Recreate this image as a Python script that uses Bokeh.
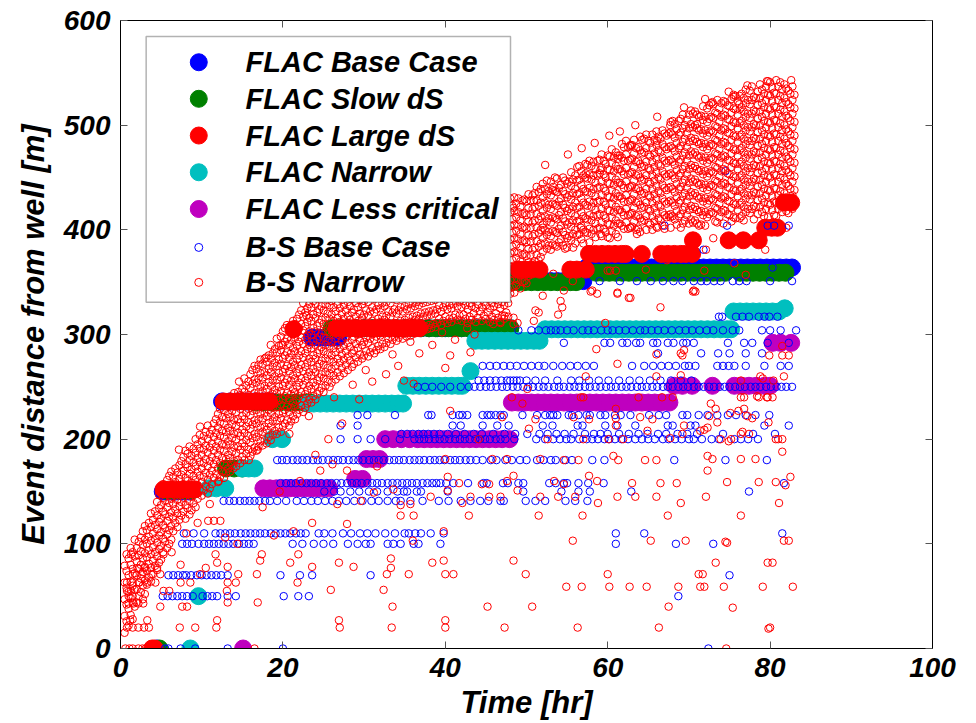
from bokeh.plotting import figure
from bokeh.models import Range1d, FixedTicker, LinearAxis, BoxAnnotation, ColumnDataSource
from bokeh.core.properties import value
from bokeh.embed import file_html
from bokeh.resources import INLINE

FONT = "Liberation Sans"
BLUE, GREEN, RED, CYAN, MAGENTA = "#0000FF", "#008000", "#FF0000", "#00BFBF", "#BF00BF"

X_TICKS = [0, 20, 40, 60, 80, 100]
Y_TICKS = [0, 100, 200, 300, 400, 500, 600]

LEGEND_LABELS = ["FLAC Base Case", "FLAC Slow dS", "FLAC Large dS", "FLAC Narrow",
                 "FLAC Less critical", "B-S Base Case", "B-S Narrow"]

# ---- FLAC series: (distance [m], [times in hr])
FLAC_BASE_ROWS = [
    (0, [4.5]),
    (150, [5.2, 6.0, 6.8, 7.6, 8.4]),
    (236, [12.5, 13.5, 14.5, 15.5, 16.5, 17.5, 18.5]),
    (297, [23.6, 24.4, 25.2, 26.0, 26.8]),
    (306, [28.0, 29.0, 30.0, 31.0, 32.0, 33.0, 34.0, 35.0, 36.0, 37.0, 38.0, 39.0, 40.0,
           41.0, 42.0, 43.0, 44.0, 45.0, 46.0, 47.0, 48.0]),
    (351, [48.2, 49.0, 49.8, 50.6, 51.4, 52.2, 53.0, 53.8, 54.6, 55.4, 56.2, 57.0]),
    (364, [57.4, 58.2, 59.0, 59.8, 60.6, 61.4, 62.2, 63.0, 63.8, 64.6, 65.4, 66.2, 67.0,
           67.8, 68.6, 69.4, 70.2, 71.0, 71.8, 72.6, 73.4, 74.2, 75.0, 75.6, 76.4, 77.2,
           78.0, 78.8, 79.6, 80.4, 81.2, 82.0, 82.7]),
]
FLAC_SLOW_ROWS = [
    (0, [4.8]),
    (151, [5.6, 6.4, 7.2, 8.0, 8.8]),
    (172, [13.0, 14.0, 15.0]),
    (235, [16.6, 17.6, 18.6, 19.6, 20.6, 21.6, 22.6, 23.4]),
    (306, [26.0, 27.0, 28.0, 29.0, 30.0, 31.0, 32.0, 33.0, 34.0, 35.0, 36.0, 37.0, 38.0,
           38.8, 39.6, 40.4, 41.2, 42.0, 42.8, 43.6, 44.4, 45.2, 46.0, 46.8, 47.6, 48.0]),
    (350, [48.2, 49.0, 49.8, 50.6, 51.4, 52.2, 53.0, 53.8, 54.6, 55.4, 56.1]),
    (359, [58.6, 59.4, 60.2, 61.0, 61.8, 62.6, 63.4, 64.2, 65.0, 65.8, 66.6, 67.4, 68.2,
           69.0, 69.8, 70.6, 71.4, 72.2, 73.0, 73.8, 74.5, 76.3, 77.1, 77.9, 78.7, 79.5,
           80.3, 81.1, 81.9]),
]
FLAC_LARGE_ROWS = [
    (0, [3.9, 4.2]),
    (152, [5.3, 6.1, 6.9, 7.7, 8.5, 9.2]),
    (236, [12.7, 13.5, 14.3, 15.1, 15.9, 16.7, 17.5, 18.3]),
    (305, [21.3]),
    (306, [26.6, 27.4, 28.2, 29.0, 29.8, 30.6, 31.4, 32.2, 33.0, 33.8, 34.6, 35.4, 36.2, 36.8]),
    (362, [49.0, 49.8, 50.6, 51.6, 55.4, 56.2, 57.3]),
    (377, [57.7, 58.5, 59.3, 60.1, 60.9, 61.7, 62.2, 64.2, 66.6, 67.4, 68.2, 69.0, 69.6, 70.4]),
    (390, [70.5, 74.9, 76.7, 78.6]),
    (402, [79.4, 80.2, 80.9]),
    (426, [81.7, 82.6]),
]
FLAC_NARROW_ROWS = [
    (0, [8.6]),
    (50, [9.6]),
    (153, [10.9, 11.8, 12.9]),
    (172, [15.0, 15.8, 16.5]),
    (200, [18.7, 19.9]),
    (234, [23.0, 23.8, 24.6, 25.4, 26.2, 27.0, 27.8, 28.6, 29.4, 30.2, 31.0, 31.8, 32.6,
           33.4, 34.2, 34.8]),
    (251, [35.2, 36.0, 36.8, 37.6, 38.4, 39.2, 40.0, 40.8, 41.6, 42.1]),
    (265, [43.1]),
    (294, [43.7, 44.5, 45.3, 46.1, 46.9, 47.7, 48.5, 49.3, 50.1, 50.9, 51.6]),
    (305, [52.3, 53.1, 53.9, 54.7, 55.5, 56.3, 57.1, 57.9, 58.7, 59.5, 60.3, 61.1, 61.9,
           62.7, 63.5, 64.3, 65.1, 65.9, 66.7, 67.5, 68.3, 69.1, 69.9, 70.7, 71.5, 72.3,
           73.1, 73.9, 74.7, 75.2]),
    (322, [75.5, 76.3, 77.1, 77.9, 78.7, 79.5, 80.3, 81.1]),
    (325, [81.8]),
]
FLAC_LESS_ROWS = [
    (0, [15.1]),
    (153, [17.6, 18.4, 19.2, 20.0, 20.8, 21.6, 22.4, 23.2, 24.0, 24.8, 25.7]),
    (162, [28.9, 29.8]),
    (181, [30.3, 31.1, 31.9]),
    (200, [32.6, 33.6, 34.6, 35.6, 36.6, 37.4, 38.2, 39.0, 39.8, 40.6, 41.4, 42.2, 43.0,
           43.8, 44.6, 45.4, 46.2, 47.0, 47.9]),
    (235, [48.2, 49.0, 49.8, 50.6, 51.4, 52.2, 53.0, 53.8, 54.6, 55.4, 56.2, 57.0, 57.8,
           58.6, 59.4, 60.2, 61.0, 61.8, 62.6, 63.4, 64.2, 65.0, 65.8, 66.6, 67.6]),
    (251, [68.2, 69.2, 70.4, 72.9, 75.6, 76.5, 77.4, 78.3, 79.3, 80.0]),
    (292, [80.3, 81.3, 82.6]),
]

# ---- B-S Base Case: (distance [m], [times in hr])
BSB_ROWS = [
    (0, [5.5, 5.9, 7.4, 9.2, 13.2, 20.0, 72.4]),
    (50, [5.2, 5.8, 6.4, 7.0, 7.6, 8.2, 8.9, 10.1, 10.7, 11.3, 11.9, 13.2, 14.2, 20.1, 21.9,
          23.2, 68.7]),
    (70, [5.9, 6.5, 7.1, 7.7, 8.1, 8.7, 9.4, 10.0, 10.6, 11.2, 11.8, 12.4, 13.2, 19.7, 22.1,
          23.6, 30.8, 75.0]),
    (100, [7.6, 8.2, 8.8, 9.6, 10.3, 10.9, 11.5, 12.1, 12.7, 13.3, 13.9, 14.6, 15.2, 15.8,
           16.4, 21.2, 22.4, 23.8, 25.0, 26.2, 28.0, 29.2, 30.2, 30.8, 32.9, 33.6, 34.5, 36.1,
           36.7, 39.4, 61.0, 68.4, 73.0]),
    (110, [7.8, 9.0, 10.3, 11.7, 12.3, 12.9, 13.5, 14.1, 14.8, 15.4, 16.0, 16.6, 17.2, 17.8,
           18.5, 19.1, 19.7, 20.3, 20.9, 21.6, 22.2, 22.8, 24.4, 25.1, 26.1, 27.4, 28.4, 29.5,
           30.4, 31.4, 32.6, 33.8, 35.0, 35.5, 36.3, 37.0, 38.2, 39.8, 61.0, 64.5, 81.5]),
    (141, [12.7, 13.4, 14.0, 14.7, 15.3, 15.9, 16.5, 17.1, 17.8, 18.4, 19.3, 20.4, 21.7, 22.6,
           23.5, 24.3, 25.2, 26.1, 26.9, 27.8, 28.8, 29.8, 30.9, 31.8, 32.9, 33.9, 34.5, 35.7,
           37.2, 39.2, 40.4, 41.9, 43.1, 44.3, 45.3, 46.8, 47.2, 49.9, 51.1, 52.3, 54.8, 56.0,
           57.5]),
    (150, [25.1, 26.3, 27.1, 28.3, 29.4, 30.6, 31.6, 32.9, 34.1, 34.9, 35.3, 36.5, 37.0, 40.3,
           49.6, 54.3, 56.4, 57.8, 62.9, 77.4]),
    (158, [19.7, 20.4, 21.0, 21.6, 22.3, 22.9, 23.5, 24.1, 24.7, 25.4, 26.0, 26.6, 27.2, 27.9,
           28.5, 29.1, 29.7, 30.4, 31.0, 31.6, 32.2, 32.9, 33.5, 34.1, 34.7, 35.3, 35.9, 36.5,
           37.2, 37.8, 38.4, 38.9, 39.4, 40.1, 41.0, 42.8, 44.7, 45.1, 47.1, 47.7, 49.0, 49.6,
           52.8, 53.6, 54.6, 55.0, 56.4, 57.6, 59.5, 81.7]),
    (180, [19.3, 19.9, 20.5, 21.2, 21.8, 22.4, 23.0, 23.7, 24.3, 24.9, 25.6, 26.2, 26.8, 27.4,
           28.1, 28.7, 29.3, 29.9, 30.6, 31.2, 31.8, 32.4, 33.1, 33.7, 34.3, 34.9, 35.6, 36.2,
           36.8, 37.4, 38.1, 38.7, 39.3, 39.9, 40.6, 41.2, 41.8, 42.5, 43.1, 43.8, 44.6, 45.6,
           46.3, 47.4, 48.2, 49.2, 50.0, 51.3, 52.1, 53.0, 53.6, 54.8, 55.6, 58.1, 59.6, 68.2,
           74.5, 79.6]),
    (200, [27.1, 29.2, 30.8, 32.6, 34.4, 36.2, 36.8, 37.4, 38.0, 38.7, 39.3, 39.9, 40.5, 41.2,
           41.8, 42.4, 43.0, 43.7, 44.3, 44.9, 45.5, 46.2, 46.8, 47.4, 48.5, 51.2, 52.3, 53.3,
           54.1, 54.9, 55.5, 56.5, 57.4, 58.1, 58.8, 59.6, 60.2, 60.9, 61.7, 62.5, 63.4, 64.2,
           65.0, 65.8, 66.8, 67.5, 68.3, 69.1, 70.0, 70.6, 71.6, 72.8, 73.7, 75.6, 76.4, 77.3,
           78.5]),
    (205, [34.6, 35.3, 36.0, 36.7, 37.3, 37.9, 38.6, 39.3, 40.3, 41.3, 42.4, 43.5, 44.5, 45.9,
           47.3, 48.6, 50.1, 51.6, 52.6, 53.7, 54.7, 55.8, 57.2, 58.3, 59.1, 60.0, 61.4, 62.6,
           63.8, 64.9, 66.2, 67.2, 68.6, 69.8, 71.0, 74.2, 77.9, 80.6]),
    (213, [27.1, 29.2, 40.9, 41.9, 44.6, 46.4, 47.8, 52.0, 53.2, 56.3, 56.9, 59.7, 61.2, 63.4,
           67.4, 68.0, 70.2, 70.8, 79.3, 82.3]),
    (223, [29.2, 30.4, 33.8, 37.9, 38.3, 40.9, 41.7, 42.1, 42.7, 44.6, 45.2, 45.6, 46.2, 46.8,
           47.2, 49.5, 51.3, 52.3, 52.9, 53.3, 53.8, 55.2, 55.6, 56.4, 57.4, 57.8, 59.1, 59.7,
           60.9, 61.6, 62.8, 65.1, 66.3, 67.2, 69.2, 69.8, 71.2, 72.3, 73.5, 74.8, 75.8, 77.0,
           78.2, 79.9]),
    (250, [36.6, 37.5, 38.4, 39.5, 40.6, 41.9, 42.9, 43.6, 44.3, 45.0, 45.6, 46.3, 47.0, 47.6,
           48.3, 48.9, 49.6, 50.2, 50.8, 51.5, 52.1, 52.7, 53.4, 54.0, 54.6, 55.3, 55.9, 56.5,
           57.2, 57.8, 58.5, 59.1, 59.8, 60.4, 61.0, 61.7, 62.3, 62.9, 63.6, 64.2, 64.8, 65.5,
           66.1, 66.8, 67.4, 68.0, 68.7, 69.3, 69.9, 70.6, 71.2, 71.8, 72.5, 73.1, 73.8, 74.4,
           75.0, 75.7, 76.3, 76.9, 77.6, 78.2, 78.8, 79.5, 80.1, 80.8, 81.4, 82.0, 82.7]),
    (256, [44.1, 44.8, 45.5, 46.2, 46.9, 47.6, 48.0, 48.4, 48.8, 49.2, 50.0, 51.1, 52.3, 53.8,
           55.5, 56.5, 57.7, 58.9, 60.1, 61.4, 62.7, 63.9, 65.2, 66.5, 67.8, 69.0, 70.3]),
    (270, [44.6, 45.5, 46.3, 47.2, 48.0, 48.8, 49.7, 50.6, 51.5, 52.2, 53.3, 54.4, 55.4, 56.3,
           57.3, 58.3, 63.0, 64.5, 65.6, 66.6, 67.5, 68.4, 69.5, 70.0, 70.8, 73.5, 74.2, 74.9,
           75.6, 77.0, 79.3, 81.3, 82.3]),
    (282, [66.2, 71.5, 73.6, 75.0, 77.0, 79.0]),
    (292, [54.6, 59.6, 60.3, 61.8, 62.4, 63.5, 64.0, 65.6, 66.1, 67.4, 68.1, 69.3, 69.7, 70.6,
           74.8, 76.8, 77.8, 79.7, 82.3]),
    (304, [49.0, 50.6, 51.5, 52.4, 53.0, 53.6, 54.2, 55.0, 55.8, 56.9, 57.6, 58.3, 59.2, 60.0,
           60.6, 61.4, 62.2, 63.1, 64.0, 64.6, 65.4, 66.2, 67.0, 67.9, 68.8, 69.6, 70.4, 71.3,
           72.2, 73.0, 74.2, 75.4, 76.2, 79.0, 80.0, 81.3, 83.2]),
    (317, [73.7, 74.1, 75.8, 76.6, 77.4, 78.6, 79.3, 79.9, 80.9]),
    (351, [59.0, 61.5, 63.6, 65.3, 66.8, 68.1, 69.2, 70.6, 71.5, 72.2, 73.1, 73.9, 75.4, 76.2,
           77.1, 80.0, 82.7]),
    (364, [80.3]),
    (381, [71.8]),
    (404, [67.0, 74.7, 79.7, 80.5, 82.3]),
    (456, [74.5]),
]

# ---- B-S Narrow: dense cloud read column by column (time [hr], [distances])
BSN_COLS = [
    (0.5, [15, 31, 47, 63, 79]), (0.75, [26, 42, 58, 74, 90]), (1.0, [22, 38, 54, 70, 86]),
    (1.25, [32, 48, 64, 80, 96]), (1.5, [28, 44, 60, 76, 92]), (1.75, [40, 56, 72, 88, 104]),
    (2.0, [44, 57, 70, 83, 96]), (2.25, [50, 63, 76, 89, 102]), (2.5, [54, 67, 80, 93, 106]),
    (2.75, [47, 60, 73, 86, 99, 112]), (3.0, [52, 65, 78, 91, 104, 117]),
    (3.25, [61, 74, 87, 100, 113]), (3.5, [68, 81, 94, 107, 120]),
    (3.75, [64, 77, 90, 103, 116, 129]), (4.0, [71, 84, 97, 110, 123]),
    (4.25, [79, 92, 105, 118, 131]), (4.5, [75, 88, 101, 114, 127, 140]),
    (4.75, [82, 95, 108, 121, 134, 147]), (5.0, [85, 98, 111, 124, 137, 150]),
    (5.25, [92, 105, 118, 131, 144, 157]), (5.5, [102, 115, 128, 141, 154]),
    (5.75, [96, 109, 122, 135, 148, 161]), (6.0, [100, 113, 126, 139, 152, 165]),
    (6.25, [104, 117, 130, 143, 156, 169]), (6.5, [112, 125, 138, 151, 164]),
    (6.75, [120, 133, 146, 159, 172]), (7.0, [116, 129, 142, 155, 168]),
    (7.25, [123, 136, 149, 162, 175]), (7.5, [127, 140, 153, 166, 179]),
    (7.75, [131, 144, 157, 170, 183]), (8.0, [124, 137, 150, 163, 176, 189]),
    (8.25, [134, 147, 160, 173, 186]), (8.5, [128, 141, 154, 167, 180, 193]),
    (8.75, [132, 145, 158, 171, 184]), (9.0, [139, 152, 165, 178, 191]),
    (9.25, [135, 148, 161, 174, 187, 200]), (9.5, [143, 156, 169, 182, 195]),
    (9.75, [152, 165, 178, 191, 204]), (10.0, [146, 159, 172, 185, 198]),
    (10.25, [151, 164, 177, 190, 203]), (10.5, [155, 168, 181, 194, 207]),
    (10.75, [148, 161, 174, 187, 200, 213]), (11.0, [153, 166, 179, 192, 205]),
    (11.25, [157, 170, 183, 196, 209]), (11.5, [163, 176, 189, 202, 215]),
    (11.75, [167, 180, 193, 206, 219]), (12.0, [159, 172, 185, 198, 211, 224]),
    (12.25, [164, 177, 190, 203, 216, 229]), (12.5, [169, 182, 195, 208, 221]),
    (12.75, [163, 176, 189, 202, 215, 228]), (13.0, [168, 181, 194, 207, 220, 233]),
    (13.25, [172, 185, 198, 211, 224, 237]), (13.5, [169, 182, 195, 208, 221, 234]),
    (13.75, [175, 188, 201, 214, 227, 240]), (14.0, [179, 192, 205, 218, 231, 244]),
    (14.25, [174, 187, 200, 213, 226, 239]), (14.5, [180, 193, 206, 219, 232, 245]),
    (14.75, [177, 190, 203, 216, 229, 242]), (15.0, [183, 196, 209, 222, 235, 248]),
    (15.25, [180, 193, 206, 219, 232, 245, 258]), (15.5, [186, 199, 212, 225, 238, 251]),
    (15.75, [190, 203, 216, 229, 242, 255]), (16.0, [184, 197, 210, 223, 236, 249, 262]),
    (16.25, [188, 201, 214, 227, 240, 253, 266]), (16.5, [192, 205, 218, 231, 244, 257, 270]),
    (16.75, [189, 202, 215, 228, 241, 254, 267]), (17.0, [193, 206, 219, 232, 245, 258, 271]),
    (17.25, [198, 211, 224, 237, 250, 263, 276]), (17.5, [194, 207, 220, 233, 246, 259, 272]),
    (17.75, [199, 212, 225, 238, 251, 264, 277]), (18.0, [196, 209, 222, 235, 248, 261, 274]),
    (18.25, [202, 215, 228, 241, 254, 267, 280]),
    (18.5, [199, 212, 225, 238, 251, 264, 277, 290]),
    (18.75, [204, 217, 230, 243, 256, 269, 282]), (19.0, [208, 221, 234, 247, 260, 273, 286]),
    (19.25, [205, 218, 231, 244, 257, 270, 283, 296]),
    (19.5, [211, 224, 237, 250, 263, 276, 289]),
    (19.75, [207, 220, 233, 246, 259, 272, 285, 298]),
    (20.0, [212, 225, 238, 251, 264, 277, 290, 303]),
    (20.25, [215, 228, 241, 254, 267, 280, 293, 306]),
    (20.5, [218, 231, 244, 257, 270, 283, 296, 309]),
    (20.75, [213, 226, 239, 252, 265, 278, 291, 304]),
    (21.0, [217, 230, 243, 256, 269, 282, 295, 308]),
    (21.25, [222, 235, 248, 261, 274, 287, 300, 313]),
    (21.5, [219, 232, 245, 258, 271, 284, 297, 310]),
    (21.75, [224, 237, 250, 263, 276, 289, 302, 315]),
    (22.0, [228, 241, 254, 267, 280, 293, 306, 319]),
    (22.25, [232, 245, 258, 271, 284, 297, 310, 323]),
    (22.5, [226, 239, 252, 265, 278, 291, 304, 317, 330]),
    (22.75, [230, 243, 256, 269, 282, 295, 308, 321]),
    (23.0, [234, 247, 260, 273, 286, 299, 312, 325]),
    (23.25, [238, 251, 264, 277, 290, 303, 316, 329]),
    (23.5, [235, 248, 261, 274, 287, 300, 313, 326]),
    (23.75, [241, 254, 267, 280, 293, 306, 319, 332]),
    (24.0, [238, 251, 264, 277, 290, 303, 316, 329]),
    (24.25, [243, 256, 269, 282, 295, 308, 321, 334]),
    (24.5, [246, 259, 272, 285, 298, 311, 324]), (24.75, [249, 262, 275, 288, 301, 314, 327]),
    (25.0, [245, 258, 271, 284, 297, 310, 323, 336]),
    (25.25, [251, 264, 277, 290, 303, 316, 329]), (25.5, [255, 268, 281, 294, 307, 320, 333]),
    (25.75, [250, 263, 276, 289, 302, 315, 328]), (26.0, [254, 267, 280, 293, 306, 319, 332]),
    (26.25, [261, 274, 287, 300, 313, 326]), (26.5, [257, 270, 283, 296, 309, 322, 335]),
    (26.75, [264, 277, 290, 303, 316, 329]), (27.0, [260, 273, 286, 299, 312, 325]),
    (27.25, [268, 281, 294, 307, 320, 333]), (27.5, [263, 276, 289, 302, 315, 328]),
    (27.75, [271, 284, 297, 310, 323, 336]), (28.0, [266, 279, 292, 305, 318, 331]),
    (28.25, [275, 288, 301, 314, 327]), (28.5, [269, 282, 295, 308, 321, 334]),
    (28.75, [272, 285, 298, 311, 324]), (29.0, [278, 291, 304, 317, 330]),
    (29.25, [274, 287, 300, 313, 326]), (29.5, [281, 294, 307, 320, 333]),
    (29.75, [277, 290, 303, 316, 329]), (30.0, [280, 293, 306, 319, 332]),
    (30.25, [284, 297, 310, 323, 336]), (30.5, [279, 292, 305, 318, 331]),
    (30.75, [283, 296, 309, 322, 335]), (31.0, [287, 300, 313, 326]),
    (31.25, [282, 295, 308, 321, 334]), (31.5, [285, 298, 311, 324]),
    (31.75, [289, 302, 315, 328]), (32.0, [286, 299, 312, 325]),
    (32.25, [291, 304, 317, 330]), (32.5, [288, 301, 314, 327]),
    (32.75, [292, 305, 318, 331]), (33.0, [296, 309, 322, 335]),
    (33.25, [291, 304, 317, 330]), (33.5, [295, 308, 321, 334]),
    (33.75, [298, 311, 324]), (34.0, [294, 307, 320, 333]),
    (34.25, [297, 310, 323, 336]), (34.5, [300, 313, 326]),
    (34.75, [296, 309, 322, 335]), (35.0, [301, 314, 327]),
    (35.25, [298, 311, 324]), (35.5, [303, 316, 329]), (35.75, [299, 312, 325]),
    (36.0, [304, 317, 330]), (36.25, [301, 314, 327]), (36.5, [305, 318, 331]),
    (36.75, [302, 315, 328]), (37.0, [307, 320, 333]), (37.25, [304, 317, 330]),
    (37.5, [308, 321, 334]), (37.75, [305, 318, 331]), (38.0, [309, 322, 335]),
    (38.25, [306, 319, 332]), (38.5, [310, 323, 336]), (38.75, [307, 320, 333]),
    (39.0, [311, 324]), (39.25, [315, 328]), (39.5, [309, 322, 335]), (39.75, [313, 326]),
    (40.0, [317, 330]), (40.25, [311, 324]), (40.5, [315, 328]), (40.75, [312, 325]),
    (41.0, [316, 329]), (41.25, [319, 332]), (41.5, [314, 327]), (41.75, [318, 331]),
    (42.0, [313, 326]), (42.25, [319, 332]), (42.5, [315, 328]), (42.75, [311, 324]),
    (43.0, [317, 330]), (43.25, [314, 327]), (43.5, [320, 333]), (43.75, [312, 325]),
    (44.0, [316, 329]), (44.25, [322, 335]), (44.5, [313, 326]), (44.75, [318, 331]),
    (45.0, [315, 328]), (45.25, [321, 334]), (45.5, [312, 325]), (45.75, [317, 330]),
    (46.0, [314, 327]), (46.25, [320, 333]), (46.5, [316, 329]), (46.75, [312, 325, 338]),
    (47.0, [318, 331]), (47.25, [315, 328]), (47.5, [321, 334]), (47.75, [317, 330, 343]),
    (48.0, [339, 352, 365, 378, 391, 404, 417, 430]),
    (48.25, [345, 358, 371, 384, 397, 410, 423]),
    (48.5, [340, 353, 366, 379, 392, 405, 418, 431]),
    (48.75, [347, 360, 373, 386, 399, 412, 425]),
    (49.0, [352, 365, 378, 391, 404, 417, 430]),
    (49.25, [344, 357, 370, 383, 396, 409, 422]),
    (49.5, [350, 363, 376, 389, 402, 415, 428]),
    (49.75, [351, 364, 377, 390, 403, 416, 429]),
    (50.0, [349, 362, 375, 388, 401, 414, 427]),
    (50.25, [356, 369, 382, 395, 408, 421, 434]),
    (50.5, [363, 376, 389, 402, 415, 428]), (50.75, [368, 381, 394, 407, 420, 433]),
    (51.0, [370, 383, 396, 409, 422, 435]), (51.25, [376, 389, 402, 415, 428, 441]),
    (51.5, [371, 384, 397, 410, 423, 436]), (51.75, [374, 387, 400, 413, 426, 439]),
    (52.0, [379, 392, 405, 418, 431, 444]), (52.25, [387, 400, 413, 426, 439]),
    (52.5, [382, 395, 408, 421, 434, 447]), (52.75, [385, 398, 411, 424, 437]),
    (53.0, [381, 394, 407, 420, 433, 446]), (53.25, [386, 399, 412, 425, 438]),
    (53.5, [385, 398, 411, 424, 437, 450]), (53.75, [384, 397, 410, 423, 436, 449]),
    (54.0, [388, 401, 414, 427, 440]), (54.25, [391, 404, 417, 430, 443]),
    (54.5, [385, 398, 411, 424, 437, 450]), (54.75, [382, 395, 408, 421, 434, 447]),
    (55.0, [392, 405, 418, 431, 444]), (55.25, [394, 407, 420, 433, 446]),
    (55.5, [390, 403, 416, 429, 442, 455]), (55.75, [383, 396, 409, 422, 435, 448]),
    (56.0, [387, 400, 413, 426, 439, 452]), (56.25, [395, 408, 421, 434, 447, 460]),
    (56.5, [396, 409, 422, 435, 448, 461]), (56.75, [391, 404, 417, 430, 443, 456]),
    (57.0, [387, 400, 413, 426, 439, 452]), (57.25, [398, 411, 424, 437, 450, 463]),
    (57.5, [397, 410, 423, 436, 449, 462]), (57.75, [388, 401, 414, 427, 440, 453, 466]),
    (58.0, [396, 409, 422, 435, 448, 461]), (58.25, [400, 413, 426, 439, 452, 465]),
    (58.5, [393, 406, 419, 432, 445, 458]), (58.75, [401, 414, 427, 440, 453, 466]),
    (59.0, [402, 415, 428, 441, 454, 467]), (59.25, [394, 407, 420, 433, 446, 459, 472]),
    (59.5, [401, 414, 427, 440, 453, 466]), (59.75, [398, 411, 424, 437, 450, 463]),
    (60.0, [393, 406, 419, 432, 445, 458, 471]), (60.25, [392, 405, 418, 431, 444, 457, 470]),
    (60.5, [399, 412, 425, 438, 451, 464, 477]), (60.75, [404, 417, 430, 443, 456, 469]),
    (61.0, [396, 409, 422, 435, 448, 461, 474]), (61.25, [393, 406, 419, 432, 445, 458, 471]),
    (61.5, [406, 419, 432, 445, 458, 471]), (61.75, [404, 417, 430, 443, 456, 469, 482]),
    (62.0, [401, 414, 427, 440, 453, 466, 479]), (62.25, [407, 420, 433, 446, 459, 472, 485]),
    (62.5, [401, 414, 427, 440, 453, 466, 479]), (62.75, [402, 415, 428, 441, 454, 467, 480]),
    (63.0, [403, 416, 429, 442, 455, 468, 481]), (63.25, [408, 421, 434, 447, 460, 473, 486]),
    (63.5, [400, 413, 426, 439, 452, 465, 478]), (63.75, [401, 414, 427, 440, 453, 466, 479]),
    (64.0, [398, 411, 424, 437, 450, 463, 476, 489]),
    (64.25, [408, 421, 434, 447, 460, 473, 486]), (64.5, [409, 422, 435, 448, 461, 474, 487]),
    (64.75, [400, 413, 426, 439, 452, 465, 478, 491]),
    (65.0, [407, 420, 433, 446, 459, 472, 485]), (65.25, [405, 418, 431, 444, 457, 470, 483]),
    (65.5, [400, 413, 426, 439, 452, 465, 478, 491]),
    (65.75, [408, 421, 434, 447, 460, 473, 486]),
    (66.0, [403, 416, 429, 442, 455, 468, 481, 494]),
    (66.25, [411, 424, 437, 450, 463, 476, 489]), (66.5, [409, 422, 435, 448, 461, 474, 487]),
    (66.75, [404, 417, 430, 443, 456, 469, 482, 495]),
    (67.0, [401, 414, 427, 440, 453, 466, 479, 492]),
    (67.25, [412, 425, 438, 451, 464, 477, 490]), (67.5, [414, 427, 440, 453, 466, 479, 492]),
    (67.75, [402, 415, 428, 441, 454, 467, 480, 493, 503]),
    (68.0, [413, 426, 439, 452, 465, 478, 491, 504]),
    (68.25, [410, 423, 436, 449, 462, 475, 488, 501]),
    (68.5, [405, 418, 431, 444, 457, 470, 483, 496]),
    (68.75, [413, 426, 439, 452, 465, 478, 491, 504]),
    (69.0, [402, 415, 428, 441, 454, 467, 480, 493, 506]),
    (69.25, [406, 419, 432, 445, 458, 471, 484, 497, 510]),
    (69.5, [409, 422, 435, 448, 461, 474, 487, 500]),
    (69.75, [414, 427, 440, 453, 466, 479, 492, 505]),
    (70.0, [406, 419, 432, 445, 458, 471, 484, 497, 510]),
    (70.25, [410, 423, 436, 449, 462, 475, 488, 501, 514]),
    (70.5, [407, 420, 433, 446, 459, 472, 485, 498, 511]),
    (70.75, [409, 422, 435, 448, 461, 474, 487, 500, 513]),
    (71.0, [406, 419, 432, 445, 458, 471, 484, 497, 510]),
    (71.25, [404, 417, 430, 443, 456, 469, 482, 495, 508]),
    (71.5, [405, 418, 431, 444, 457, 470, 483, 496, 509]),
    (71.75, [414, 427, 440, 453, 466, 479, 492, 505, 518]),
    (72.0, [404, 417, 430, 443, 456, 469, 482, 495, 508]),
    (72.25, [412, 425, 438, 451, 464, 477, 490, 503, 516]),
    (72.5, [415, 428, 441, 454, 467, 480, 493, 506, 519]),
    (72.75, [417, 430, 443, 456, 469, 482, 495, 508, 521]),
    (73.0, [416, 429, 442, 455, 468, 481, 494, 507, 520]),
    (73.25, [408, 421, 434, 447, 460, 473, 486, 499, 512]),
    (73.5, [407, 420, 433, 446, 459, 472, 485, 498, 511, 524]),
    (73.75, [412, 425, 438, 451, 464, 477, 490, 503, 516]),
    (74.0, [417, 430, 443, 456, 469, 482, 495, 508, 521]),
    (74.25, [406, 419, 432, 445, 458, 471, 484, 497, 510, 523]),
    (74.5, [418, 431, 444, 457, 470, 483, 496, 509, 522]),
    (74.75, [415, 428, 441, 454, 467, 480, 493, 506, 519]),
    (75.0, [414, 427, 440, 453, 466, 479, 492, 505, 518]),
    (75.25, [408, 421, 434, 447, 460, 473, 486, 499, 512, 525]),
    (75.5, [412, 425, 438, 451, 464, 477, 490, 503, 516, 529]),
    (75.75, [411, 424, 437, 450, 463, 476, 489, 502, 515, 528]),
    (76.0, [419, 432, 445, 458, 471, 484, 497, 510, 523]),
    (76.25, [411, 424, 437, 450, 463, 476, 489, 502, 515, 528]),
    (76.5, [413, 426, 439, 452, 465, 478, 491, 504, 517, 530]),
    (76.75, [409, 422, 435, 448, 461, 474, 487, 500, 513, 526]),
    (77.0, [417, 430, 443, 456, 469, 482, 495, 508, 521, 534]),
    (77.25, [420, 433, 446, 459, 472, 485, 498, 511, 524]),
    (77.5, [416, 429, 442, 455, 468, 481, 494, 507, 520, 533]),
    (77.75, [420, 433, 446, 459, 472, 485, 498, 511, 524, 537]),
    (78.0, [410, 423, 436, 449, 462, 475, 488, 501, 514, 527]),
    (78.25, [422, 435, 448, 461, 474, 487, 500, 513, 526]),
    (78.5, [415, 428, 441, 454, 467, 480, 493, 506, 519, 532]),
    (78.75, [422, 435, 448, 461, 474, 487, 500, 513, 526, 539]),
    (79.0, [417, 430, 443, 456, 469, 482, 495, 508, 521, 534]),
    (79.25, [413, 426, 439, 452, 465, 478, 491, 504, 517, 530]),
    (79.5, [420, 433, 446, 459, 472, 485, 498, 511, 524, 537]),
    (79.75, [412, 425, 438, 451, 464, 477, 490, 503, 516, 529, 542]),
    (80.0, [424, 437, 450, 463, 476, 489, 502, 515, 528, 541]),
    (80.25, [419, 432, 445, 458, 471, 484, 497, 510, 523, 536]),
    (80.5, [414, 427, 440, 453, 466, 479, 492, 505, 518, 531]),
    (80.75, [413, 426, 439, 452, 465, 478, 491, 504, 517, 530, 543]),
    (81.0, [420, 433, 446, 459, 472, 485, 498, 511, 524, 537]),
    (81.25, [424, 437, 450, 463, 476, 489, 502, 515, 528, 541]),
    (81.5, [417, 430, 443, 456, 469, 482, 495, 508, 521, 534]),
    (81.75, [422, 435, 448, 461, 474, 487, 500, 513, 526, 539]),
    (82.0, [418, 431, 444, 457, 470, 483, 496, 509, 522, 535]),
    (82.25, [416, 429, 442, 455, 468, 481, 494, 507, 520, 533]),
    (82.5, [426, 439, 452, 465, 478, 491, 504, 517, 530]),
    (82.75, [420, 433, 446, 459, 472, 485, 498, 511, 524, 537]),
    (83.0, [425, 438, 451, 464, 477, 490, 503, 516, 529]),
]

# ---- B-S Narrow: scattered events outside the dense cloud (time [hr], distance [m])
BSN_SCATTER = [
    (0.6, 0), (1.1, 0), (1.5, 0), (2.2, 0), (2.7, 0), (3.1, 0), (16.5, 0), (74.6, 0),
    (0.8, 20), (1.5, 20), (2.2, 20), (2.9, 20), (3.5, 20), (7.3, 20), (9.2, 20), (11.8, 20),
    (27.0, 20), (33.4, 20), (40.0, 20), (47.3, 20), (56.3, 20), (66.3, 20), (80.0, 20),
    (1.2, 27), (3.3, 27), (11.9, 27), (26.9, 27), (40.0, 27),
    (1.0, 43), (1.6, 43), (2.2, 43), (2.8, 43), (4.9, 40), (7.6, 40), (8.2, 40), (13.2, 44),
    (16.9, 44), (33.5, 40), (45.2, 40), (50.7, 40), (67.5, 40), (75.4, 39), (79.8, 19),
    (1.0, 50), (1.5, 50), (0.8, 55), (1.3, 55), (5.3, 55), (6.0, 55), (13.1, 55), (25.9, 56),
    (32.4, 56), (0.8, 63), (1.5, 63), (2.3, 63), (3.3, 63), (4.3, 63), (7.4, 63), (8.6, 63),
    (13.2, 63), (14.2, 63), (21.8, 63), (1.5, 71), (2.6, 71), (3.8, 71), (4.9, 71), (9.8, 71),
    (14.5, 71), (16.8, 71), (32.8, 71), (35.5, 71), (40.0, 71), (41.0, 71), (49.9, 71),
    (60.0, 71), (71.2, 71), (71.7, 71), (2.1, 77), (3.0, 77), (4.5, 77), (7.4, 80), (10.5, 77),
    (11.9, 82), (13.2, 78), (17.2, 84), (20.9, 82), (23.6, 78), (26.9, 82), (28.7, 78),
    (33.3, 77), (33.3, 86), (38.4, 82), (39.8, 84), (48.4, 84), (73.3, 82), (79.7, 82),
    (80.3, 82), (1.3, 90), (5.3, 90), (11.7, 90), (17.4, 90), (21.9, 90),
    (54.9, 59), (56.8, 59), (60.2, 59), (62.7, 59), (64.8, 59), (68.7, 59), (71.4, 59),
    (71.9, 59), (74.3, 59), (79.1, 59), (82.8, 59),
    (12.9, 106), (14.4, 100), (18.9, 108), (21.3, 112), (23.6, 120), (27.9, 119), (36.0, 103),
    (39.8, 112), (55.7, 103), (65.3, 103), (69.6, 103), (74.5, 102), (74.7, 101), (81.7, 103),
    (82.3, 103), (10.8, 122), (11.5, 122), (12.3, 122), (34.5, 127), (36.1, 127), (42.9, 127),
    (51.5, 127), (56.9, 127), (67.4, 127), (76.4, 127), (6.3, 92), (8.1, 110), (9.5, 120),
    (11.0, 138), (12.1, 160), (13.9, 172), (15.8, 180), (16.9, 190), (17.5, 135), (19.6, 150),
    (22.1, 160), (24.0, 185), (25.6, 200), (27.3, 215), (29.4, 238), (31.0, 255), (32.7, 262),
    (34.2, 270), (36.8, 282), (38.4, 290), (41.2, 295), (43.6, 300), (45.9, 310), (47.3, 318),
    (20.8, 205), (23.2, 222), (26.3, 240), (28.6, 252), (30.2, 266), (33.5, 281), (35.7, 293),
    (39.6, 302), (42.7, 306), (7.2, 190), (9.8, 212), (12.2, 233), (14.6, 255), (17.9, 278),
    (19.8, 290), (21.8, 305), (22.9, 318),
    (26.7, 138), (29.6, 141), (31.2, 149), (33.6, 152), (34.5, 137), (35.7, 138), (38.2, 145),
    (42.1, 139), (43.1, 145), (45.4, 145), (46.8, 145), (51.7, 145), (53.9, 145), (56.0, 145),
    (58.8, 139), (61.2, 145), (63.4, 145), (66.0, 145), (69.0, 139), (72.1, 145), (81.1, 139),
    (40.3, 151), (48.9, 151), (41.7, 158), (44.5, 157), (45.4, 157), (47.6, 160), (48.4, 165),
    (40.3, 164), (53.4, 160), (54.6, 157), (57.7, 165), (58.7, 160), (63.0, 158), (66.5, 158),
    (68.5, 158), (74.7, 159), (78.6, 159), (80.7, 159), (81.9, 156), (82.5, 164), (72.3, 170),
    (24.6, 170), (26.1, 176), (27.9, 170), (31.6, 174),
    (40.0, 181), (45.8, 181), (47.6, 181), (51.7, 181), (54.6, 180), (56.4, 180), (60.7, 184),
    (61.3, 180), (64.6, 180), (66.0, 180), (72.3, 184), (72.9, 181), (76.4, 181), (78.2, 181),
    (81.5, 188), (44.1, 200), (52.6, 200), (75.2, 200), (76.6, 207), (77.4, 205), (80.7, 200),
    (81.5, 200), (71.9, 209), (72.3, 211), (50.3, 210), (69.4, 213), (57.0, 200), (60.1, 200),
    (61.9, 200), (64.9, 208), (67.7, 201), (69.2, 205), (71.4, 208), (73.9, 200), (76.4, 205),
    (81.0, 200), (74.9, 198), (57.7, 219), (61.0, 213), (61.0, 220), (65.5, 219),
    (40.6, 227), (47.0, 221), (51.1, 219), (55.8, 221), (61.0, 229), (64.0, 221), (72.7, 234),
    (73.3, 229), (73.5, 216), (72.5, 222), (76.8, 240), (76.8, 229), (77.8, 220), (78.6, 240),
    (79.7, 240), (80.3, 240), (76.1, 227), (77.2, 222), (75.1, 225), (79.8, 216),
    (48.2, 240), (49.5, 234), (56.7, 240), (57.0, 240), (63.8, 240), (66.7, 240), (68.0, 240),
    (76.4, 240), (78.4, 241), (79.6, 240), (50.1, 248), (57.3, 260), (61.2, 272), (66.0, 260),
    (69.0, 261), (69.0, 282), (69.4, 285), (58.6, 286), (59.7, 311), (66.0, 281), (43.1, 283),
    (40.6, 280), (40.0, 268), (34.9, 256), (36.1, 253), (66.5, 326), (70.6, 342), (62.6, 335),
    (61.2, 339), (58.7, 339), (57.9, 341), (70.5, 341), (76.4, 256), (78.8, 260), (80.4, 256),
    (81.5, 289), (82.3, 280), (81.7, 260), (79.9, 280), (81.5, 280), (79.1, 258), (69.2, 280),
    (48.4, 316), (48.9, 311), (50.9, 313), (53.9, 319), (54.4, 326), (54.2, 332), (51.1, 323),
    (51.5, 321), (48.4, 310), (46.8, 311),
    (53.3, 358), (54.6, 342), (52.0, 337), (55.7, 351), (58.1, 342), (60.0, 361), (61.2, 340),
    (62.8, 335), (60.3, 361), (61.0, 361), (66.1, 402), (67.7, 412), (62.8, 402), (63.6, 396),
    (59.1, 396), (56.7, 402), (55.0, 383), (52.0, 402), (72.1, 381), (70.8, 341), (75.6, 368),
    (71.9, 361), (77.0, 357), (64.7, 362), (67.3, 371), (73.0, 392), (79.4, 381), (82.0, 402),
    (72.9, 522), (75.5, 527), (76.2, 520), (71.0, 501), (67.7, 500), (66.1, 485), (62.8, 481),
    (61.3, 468), (59.1, 457), (57.3, 454), (53.3, 441), (50.9, 428), (48.4, 421), (52.3, 462),
    (55.1, 472), (58.4, 483), (61.5, 494), (63.4, 500), (66.1, 508), (69.4, 517), (72.0, 525),
    (74.9, 532), (77.2, 538), (79.6, 542), (82.6, 543), (56.8, 478), (60.2, 490),
]


def rows_to_xy(rows):
    xs, ys = [], []
    for d, ts in rows:
        for t in ts:
            xs.append(t)
            ys.append(d)
    return xs, ys


def cols_to_xy(cols):
    xs, ys = [], []
    for t, ds in cols:
        for d in ds:
            xs.append(t)
            ys.append(d)
    return xs, ys


p = figure(width=960, height=722, x_range=Range1d(0, 100), y_range=Range1d(0, 600),
           output_backend="svg", toolbar_location=None,
           min_border_left=120, min_border_right=28, min_border_top=20, min_border_bottom=74,
           x_axis_label="Time [hr]", y_axis_label="Event distance from well [m]")
p.grid.visible = False
p.outline_line_color = "black"
p.outline_line_width = 1
p.background_fill_color = "white"
p.border_fill_color = "white"


def style_axis(ax, ticks, label_standoff, axis_label_standoff):
    ax.ticker = FixedTicker(ticks=ticks)
    ax.major_tick_in = 7
    ax.major_tick_out = 0
    ax.minor_tick_line_color = None
    ax.major_tick_line_color = "#555555"
    ax.axis_line_color = "black"
    ax.major_label_text_font = FONT
    ax.major_label_text_font_style = "bold italic"
    ax.major_label_text_font_size = "28px"
    ax.major_label_text_color = "black"
    ax.major_label_standoff = label_standoff
    ax.axis_label_text_font = FONT
    ax.axis_label_text_font_style = "bold italic"
    ax.axis_label_text_font_size = "31px"
    ax.axis_label_text_color = "black"
    ax.axis_label_standoff = axis_label_standoff


style_axis(p.xaxis[0], X_TICKS, 9, 5)
style_axis(p.yaxis[0], Y_TICKS, 10, 10)

for loc, ticks in (("above", X_TICKS), ("right", Y_TICKS)):
    ax = LinearAxis(ticker=FixedTicker(ticks=ticks),
                    major_label_overrides={t: "" for t in ticks},
                    major_label_standoff=0, major_tick_in=7, major_tick_out=0,
                    minor_tick_line_color=None, major_tick_line_color="#555555",
                    axis_line_color="black")
    p.add_layout(ax, loc)

FLAC_SERIES = [(FLAC_BASE_ROWS, BLUE), (FLAC_SLOW_ROWS, GREEN), (FLAC_LARGE_ROWS, RED),
               (FLAC_NARROW_ROWS, CYAN), (FLAC_LESS_ROWS, MAGENTA)]
for rows, col in FLAC_SERIES:
    xs, ys = rows_to_xy(rows)
    p.scatter(xs, ys, marker="circle", size=17, fill_color=col, line_color=col)

bx, by = rows_to_xy(BSB_ROWS)
p.scatter(bx, by, marker="circle", size=7.5, fill_color=None, line_color=BLUE, line_width=1)

nx, ny = cols_to_xy(BSN_COLS)
nx += [pt[0] for pt in BSN_SCATTER]
ny += [pt[1] for pt in BSN_SCATTER]
p.scatter(nx, ny, marker="circle", size=7.5, fill_color=None, line_color=RED, line_width=1)

# ---- legend box (drawn in data space, above glyphs)
LEG_ROWS_Y = [560.1, 525.2, 490.1, 455.0, 419.9, 383.2, 349.8]
box = BoxAnnotation(left=3.16, right=48.03, bottom=330.7, top=584.7,
                    fill_color="white", fill_alpha=1.0, line_color="black",
                    line_width=1.5, level="annotation")
p.add_layout(box)

leg_filled = ColumnDataSource(dict(x=[9.64] * 5, y=LEG_ROWS_Y[:5],
                                   c=[BLUE, GREEN, RED, CYAN, MAGENTA]))
p.scatter("x", "y", source=leg_filled, marker="circle", size=17, fill_color="c",
          line_color="c", level="overlay")
leg_open = ColumnDataSource(dict(x=[9.64] * 2, y=LEG_ROWS_Y[5:], c=[BLUE, RED]))
p.scatter("x", "y", source=leg_open, marker="circle", size=8, fill_color=None,
          line_color="c", line_width=1, level="overlay")
leg_txt = ColumnDataSource(dict(x=[15.4] * 7, y=LEG_ROWS_Y, t=LEGEND_LABELS))
p.text("x", "y", text="t", source=leg_txt, text_font=value(FONT),
       text_font_style="bold italic", text_font_size="29px", text_baseline="middle",
       text_align="left", text_color="black", level="overlay")

open("out.html", "w").write(file_html(p, INLINE))
